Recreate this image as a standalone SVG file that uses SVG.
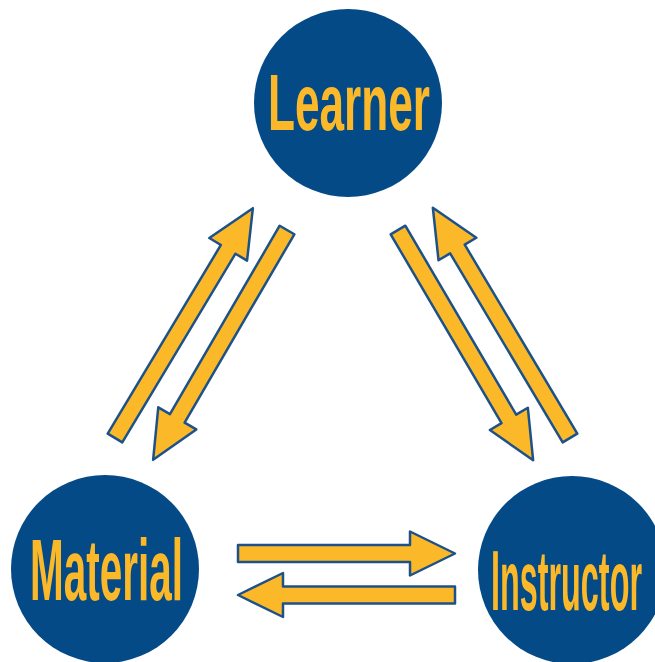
<svg xmlns="http://www.w3.org/2000/svg" width="655" height="662" viewBox="0 0 655 662">
<defs>
<style>
.node{fill:#044A87;}
.lbl{fill:#FBB829;font-family:"Liberation Sans","DejaVu Sans",sans-serif;font-weight:bold;}
.arr{fill:#FBB829;stroke:#1C5289;stroke-width:2.5;stroke-linejoin:round;}
</style>
</defs>
<rect width="655" height="662" fill="#ffffff"/>
<g id="learner">
<circle class="node" cx="348" cy="103" r="94"/>
<text class="lbl" x="268" y="130" font-size="80" textLength="162" lengthAdjust="spacingAndGlyphs">Learner</text>
</g>
<g id="material">
<circle class="node" cx="105" cy="569" r="94"/>
<text class="lbl" x="30" y="600" font-size="88" textLength="153" lengthAdjust="spacingAndGlyphs">Material</text>
</g>
<g id="instructor">
<circle class="node" cx="572" cy="570" r="94"/>
<text class="lbl" x="491" y="610" font-size="86" textLength="151" lengthAdjust="spacingAndGlyphs">Instructor</text>
</g>
<g id="connectors">
<path class="arr" transform="translate(115,438) rotate(-59.04)" d="M0,-8.5 H220 V-22 L268,0 L220,22 V8.5 H0 Z"/>
<path class="arr" transform="translate(287,230) rotate(120.22)" d="M0,-8.5 H218 V-22 L266,0 L218,22 V8.5 H0 Z"/>
<path class="arr" transform="translate(398,230) rotate(59.59)" d="M0,-8.5 H219 V-22 L267,0 L219,22 V8.5 H0 Z"/>
<path class="arr" transform="translate(570,438) rotate(-120.78)" d="M0,-8.5 H220 V-22 L268,0 L220,22 V8.5 H0 Z"/>
<path class="arr" transform="translate(238,553.5)" d="M0,-8.5 H172 V-22 L217,0 L172,22 V8.5 H0 Z"/>
<path class="arr" transform="translate(455,595) rotate(180)" d="M0,-8.5 H172 V-22 L217,0 L172,22 V8.5 H0 Z"/>
</g>
</svg>
